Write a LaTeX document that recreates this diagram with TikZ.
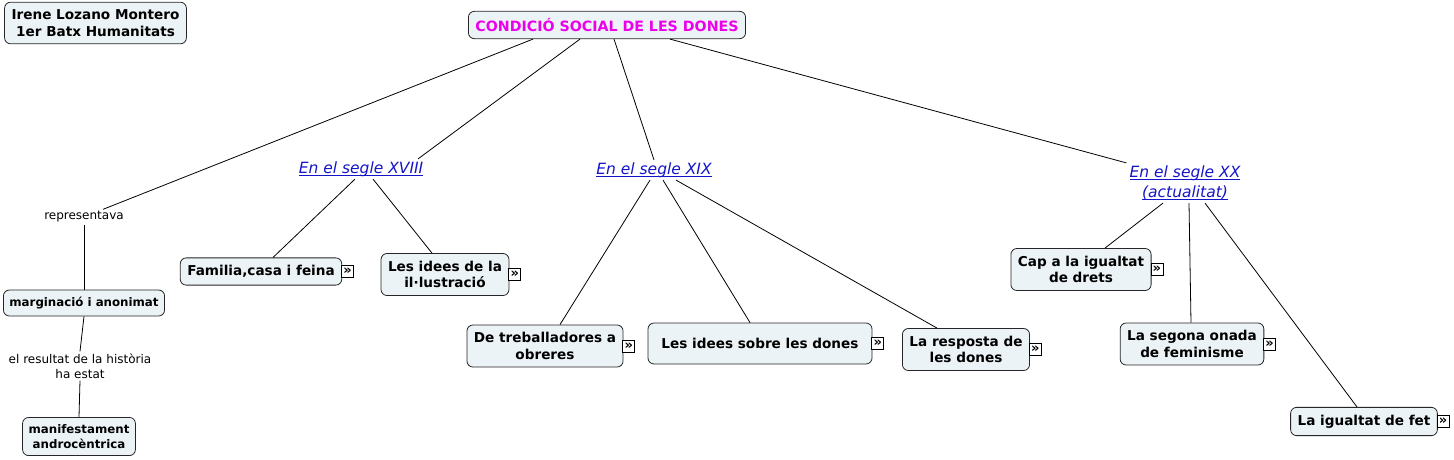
\documentclass[tikz,border=0pt]{standalone}
\usepackage{fontspec}
\setmainfont{DejaVu Sans}
\usepackage{xcolor}
\usetikzlibrary{positioning}
\definecolor{boxfill}{RGB}{236,243,246}
\definecolor{titlepink}{RGB}{236,0,236}
\definecolor{linkblue}{RGB}{20,20,200}
\newcommand\ulink[1]{\underline{\raisebox{0pt}[\height][0pt]{#1}}}
\begin{document}
\begin{tikzpicture}[
    x=1pt, y=-1pt,
    concept/.style ={rectangle, rounded corners=6pt, draw=black!85, line width=0.8pt, fill=boxfill, align=center, font=\bfseries\fontsize{13.6}{16.5}\selectfont, inner xsep=7pt, inner ysep=7.5pt},
    sconcept/.style={concept, font=\bfseries\fontsize{11.8}{15}\selectfont, inner xsep=6pt, inner ysep=7pt},
    period/.style  ={text=linkblue, align=center, font=\itshape\fontsize{15.5}{20}\selectfont, inner sep=3pt},
    phrase/.style  ={align=center, font=\fontsize{12}{15}\selectfont, inner sep=2pt},
    link/.style    ={draw=black, line width=0.8pt},
    more/.style    ={rectangle, draw=black, fill=white, line width=0.7pt, inner sep=0pt, minimum size=12pt, font=\bfseries\fontsize{13}{13}\selectfont, anchor=west}
]
\useasboundingbox (0,0) rectangle (1454,459);
% --- header ---
\node[concept] (author) at (95.5,23) {Irene Lozano Montero\\1er Batx Humanitats};
\node[concept, text=titlepink, font=\bfseries\fontsize{14.2}{16}\selectfont, inner ysep=7pt] (title) at (607,25) {CONDICIÓ SOCIAL DE LES DONES};

% --- periods ---
\node[period] (xviii) at (361,169) {\ulink{En el segle XVIII}};
\node[period] (xix)   at (654,170) {\ulink{En el segle XIX}};
\node[period] (xx)    at (1185,183) {\ulink{En el segle XX}\\\ulink{(actualitat)}};

% --- left branch ---
\node[phrase] (rep) at (84,217) {representava};
\node[sconcept] (marg) at (84,303) {marginació i anonimat};
\node[phrase] (res) at (80,366) {el resultat de la història\\ha estat};
\node[sconcept] (man) at (79,436.5) {manifestament\\androcèntrica};

% --- segle XVIII ---
\node[concept] (fam) at (261,271.5) {Familia,casa i feina};
\node[concept] (ill) at (445,274.5) {Les idees de la\\il·lustració};

% --- segle XIX ---
\node[concept] (treb)  at (545,346) {De treballadores a\\obreres};
\node[concept, minimum width=224pt, minimum height=41pt] (sobre) at (760,343.5) {Les idees sobre les dones};
\node[concept] (resp)  at (966,349.5) {La resposta de\\les dones};

% --- segle XX ---
\node[concept] (cap)   at (1081,269.5) {Cap a la igualtat\\de drets};
\node[concept] (onada) at (1192,344) {La segona onada\\de feminisme};
\node[concept] (fet)   at (1364,421.5) {La igualtat de fet};

% --- expand icons ---
\node[more] (famm)   at ([xshift=-1pt]fam.east)   {»};
\node[more] (illm)   at ([xshift=-1pt]ill.east)   {»};
\node[more] (trebm)  at ([xshift=-1pt]treb.east)  {»};
\node[more] (sobrem) at ([xshift=-1pt]sobre.east) {»};
\node[more] (respm)  at ([xshift=-1pt]resp.east)  {»};
\node[more] (capm)   at ([xshift=-1pt]cap.east)   {»};
\node[more] (onadam) at ([xshift=-1pt]onada.east) {»};
\node[more] (fetm)   at ([xshift=-1pt]fet.east)   {»};

% --- links ---
\draw[link] ([xshift=-74pt]title.south) -- ([xshift=19pt]rep.north);
\draw[link] (rep.south) -- (marg.north);
\draw[link] (marg.south) -- (res.north);
\draw[link] (res.south) -- (man.north);
\draw[link] ([xshift=-27pt]title.south) -- ([xshift=57pt]xviii.north);
\draw[link] ([xshift=7pt]title.south) -- (xix.north);
\draw[link] ([xshift=63pt]title.south) -- (xx.north west);
\draw[link] ([xshift=-6pt]xviii.south) -- ([xshift=12pt]fam.north);
\draw[link] ([xshift=12pt]xviii.south) -- ([xshift=-13pt]ill.north);
\draw[link] ([xshift=-4pt]xix.south) -- ([xshift=15pt]treb.north);
\draw[link] ([xshift=9pt]xix.south) -- ([xshift=-10pt]sobre.north);
\draw[link] ([xshift=22pt]xix.south) -- ([xshift=-29pt]resp.north);
\draw[link] ([xshift=-22pt]xx.south) -- ([xshift=24pt]cap.north);
\draw[link] ([xshift=4pt]xx.south) -- ([xshift=-1pt]onada.north);
\draw[link] ([xshift=20pt]xx.south) -- ([xshift=-7pt]fet.north);
\end{tikzpicture}
\end{document}
